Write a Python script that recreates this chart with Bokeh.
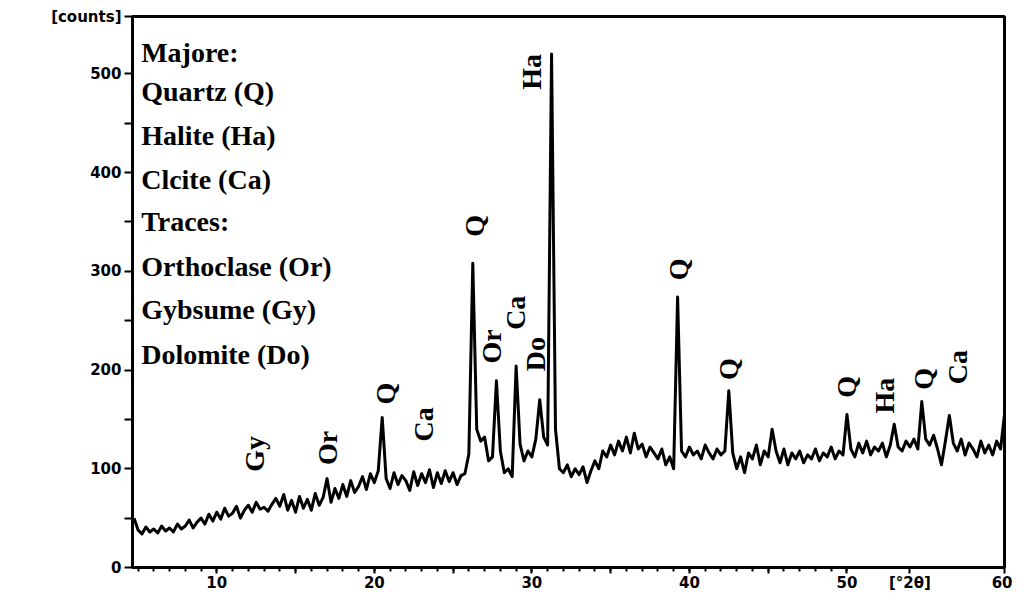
import math
from bokeh.plotting import figure
from bokeh.models import Range1d, FixedTicker, ColumnDataSource
from bokeh.core.properties import value
from bokeh.embed import file_html
from bokeh.resources import INLINE

# ---- data: XRD scan (2theta, counts) ----
scan_start = 4.75
scan_step = 0.25
counts = [
    50,
    38, 34, 41, 36,    # 5
    39, 35, 42, 37,    # 6
    40, 36, 44, 39,    # 7
    42, 48, 40, 46,    # 8
    50, 44, 54, 47,    # 9
    56, 49, 60, 52,    # 10
    55, 62, 50, 58,    # 11
    63, 56, 66, 59,    # 12
    61, 57, 64, 70,    # 13
    62, 74, 58, 68,    # 14
    56, 72, 60, 69,    # 15
    58, 75, 63, 71,    # 16
    90, 66, 80, 70,    # 17
    84, 72, 88, 76,    # 18
    82, 92, 79, 95,    # 19
    86, 98, 152, 90,   # 20
    80, 96, 84, 93,    # 21
    88, 78, 97, 83,    # 22
    95, 86, 99, 81,    # 23
    96, 85, 98, 87,    # 24
    96, 84, 93, 95,    # 25
    115, 308, 140, 128,  # 26
    132, 108, 112, 189,  # 27
    118, 96, 100, 92,  # 28
    204, 125, 108, 118,  # 29
    112, 130, 170, 132,  # 30
    124, 520, 140, 100,  # 31
    96, 104, 92, 100,  # 32
    94, 102, 86, 98,   # 33
    108, 100, 118, 112,  # 34
    124, 114, 128, 118,  # 35
    132, 116, 136, 120,  # 36
    125, 112, 122, 116,  # 37
    110, 120, 104, 112,  # 38
    100, 274, 118, 112,  # 39
    122, 114, 118, 110,  # 40
    124, 116, 110, 120,  # 41
    114, 118, 179, 116,  # 42
    100, 112, 96, 116,  # 43
    110, 124, 104, 118,  # 44
    112, 140, 118, 106,  # 45
    120, 104, 116, 110,  # 46
    118, 106, 114, 110,  # 47
    120, 108, 116, 112,  # 48
    122, 110, 118, 114,  # 49
    155, 120, 112, 126,  # 50
    116, 128, 114, 122,  # 51
    118, 126, 112, 124,  # 52
    145, 122, 118, 128,  # 53
    122, 130, 120, 168,  # 54
    130, 124, 134, 120,  # 55
    104, 128, 154, 126,  # 56
    118, 130, 114, 126,  # 57
    120, 112, 128, 116,  # 58
    124, 114, 128, 120,  # 59
    155,
]
two_theta = [scan_start + i * scan_step for i in range(len(counts))]

# peak labels
peak_names = ["Gy", "Or", "Q", "Ca", "Q", "Or", "Ca", "Do", "Ha",
              "Q", "Q", "Q", "Ha", "Q", "Ca"]
peak_label_x = [12.4, 17.0, 20.7, 23.1, 26.35, 27.42, 28.93, 30.25, 30.0,
                39.3, 42.45, 50.0, 52.4, 54.85, 57.0]
peak_label_y = [115, 121, 176, 145, 346, 224, 258, 216, 502,
                302, 201, 183, 174, 191, 203]

# legend text
legend_lines = ["Majore:", "Quartz  (Q)", "Halite  (Ha)", "Clcite  (Ca)",
                "Traces:", "Orthoclase  (Or)", "Gybsume  (Gy)", "Dolomite (Do)"]
legend_y = [522, 482, 437, 393, 350, 305, 261, 216]

x_ticks = [10, 15, 20, 25, 30, 35, 40, 45, 50, 54, 60]
x_minor = list(range(5, 51))
x_overrides = {15: "", 25: "", 35: "", 45: "", 54: "[°2θ]"}
y_ticks = [0, 50, 100, 150, 200, 250, 300, 350, 400, 450, 500, 558]
y_overrides = {50: "", 150: "", 250: "", 350: "", 450: "", 558: "[counts]"}

p = figure(width=1012, height=594,
           x_range=Range1d(4.65, 60.0), y_range=Range1d(0, 558),
           output_backend="svg", toolbar_location=None,
           min_border_left=132, min_border_right=8,
           min_border_top=16, min_border_bottom=14)
p.xgrid.visible = False
p.ygrid.visible = False
p.outline_line_color = "black"
p.outline_line_width = 3
p.outline_line_alpha = 1.0
p.background_fill_color = "white"
p.border_fill_color = "white"

xa = p.xaxis[0]
xa.ticker = FixedTicker(ticks=x_ticks, minor_ticks=x_minor)
xa.major_label_overrides = x_overrides
xa.axis_line_width = 3
xa.major_tick_in = 0
xa.major_tick_out = 6
xa.minor_tick_in = 0
xa.minor_tick_out = 4
xa.major_tick_line_width = 2
xa.minor_tick_line_width = 2
xa.major_label_standoff = 0
xa.major_label_text_font = "DejaVu Sans"
xa.major_label_text_font_style = "bold"
xa.major_label_text_font_size = "15px"
xa.major_label_text_color = "black"

ya = p.yaxis[0]
ya.ticker = FixedTicker(ticks=y_ticks)
ya.major_label_overrides = y_overrides
ya.axis_line_width = 3
ya.major_tick_in = 0
ya.major_tick_out = 8
ya.minor_tick_out = 0
ya.minor_tick_in = 0
ya.major_tick_line_width = 2
ya.major_label_standoff = 3
ya.major_label_text_font = "DejaVu Sans"
ya.major_label_text_font_style = "bold"
ya.major_label_text_font_size = "15px"
ya.major_label_text_color = "black"

p.line(two_theta, counts, line_color="black", line_width=3,
       line_join="round")

src = ColumnDataSource(dict(x=peak_label_x, y=peak_label_y, t=peak_names))
p.text(x="x", y="y", text="t", source=src, angle=math.pi / 2,
       text_align="center", text_baseline="middle",
       text_font=value("Liberation Serif"), text_font_style="bold",
       text_font_size="28px", text_color="black")

lsrc = ColumnDataSource(dict(x=[5.2] * len(legend_lines), y=legend_y,
                             t=legend_lines))
p.text(x="x", y="y", text="t", source=lsrc,
       text_align="left", text_baseline="middle",
       text_font=value("Liberation Serif"), text_font_style="bold",
       text_font_size="28px", text_color="black")

open("out.html", "w").write(file_html(p, INLINE))
